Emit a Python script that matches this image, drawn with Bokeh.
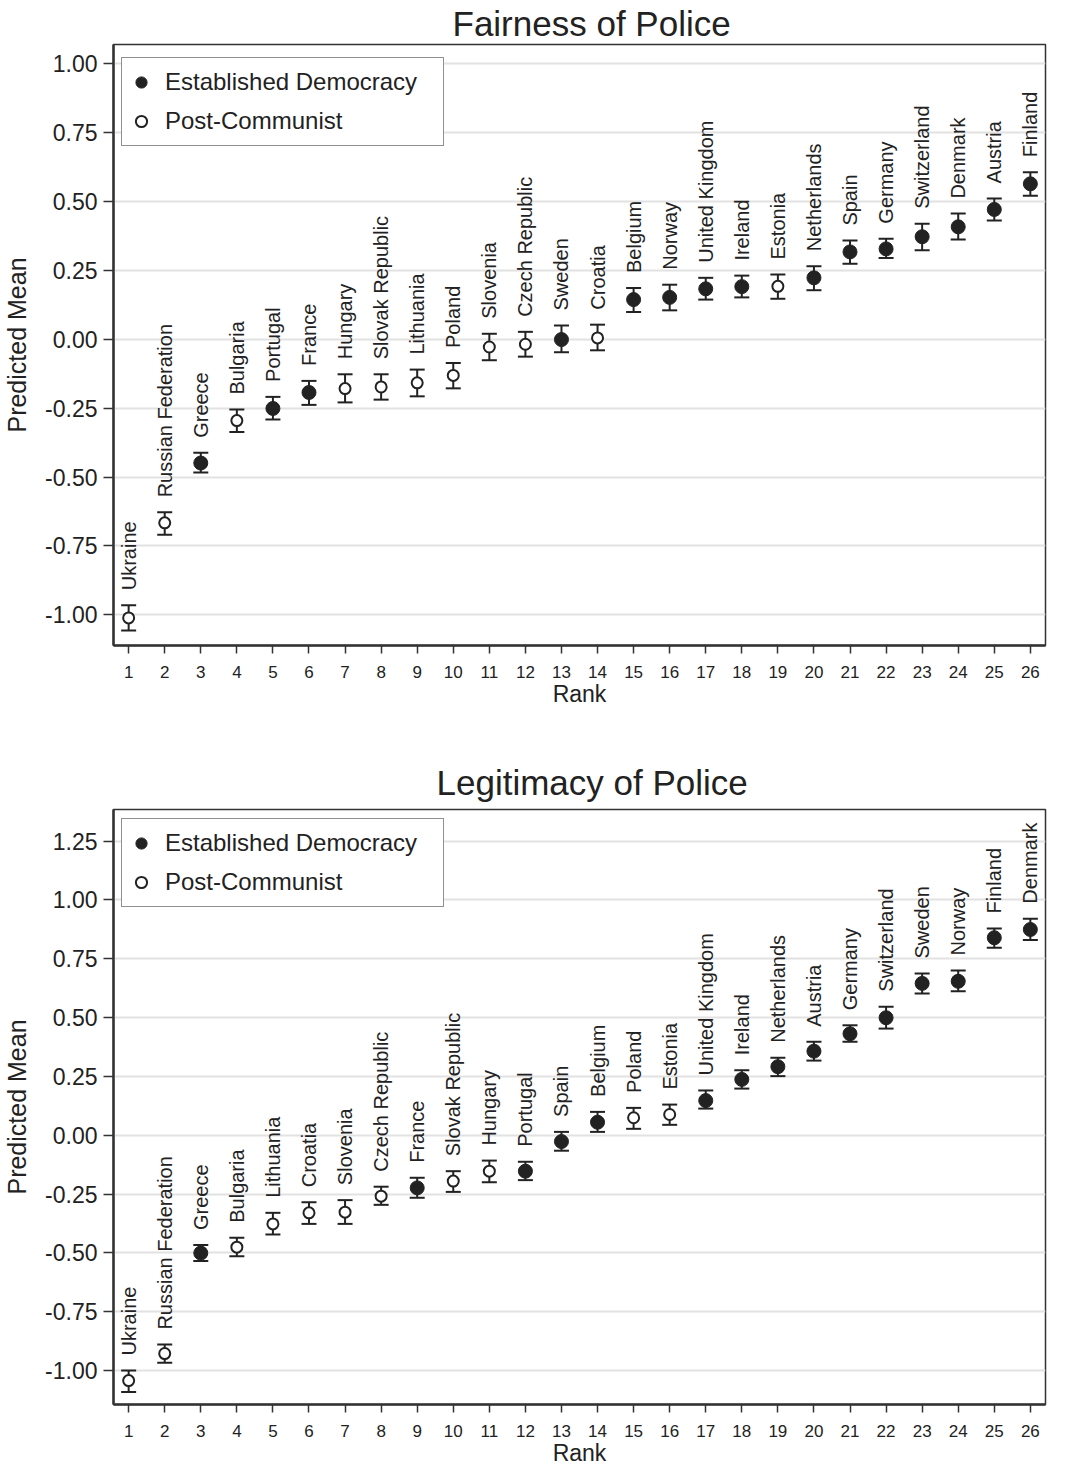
import numpy as np
from bokeh.plotting import figure
from bokeh.models import (ColumnDataSource, Whisker, TeeHead, FixedTicker,
                          PrintfTickFormatter, Legend, LegendItem, Title)
from bokeh.layouts import column
from bokeh.embed import file_html
from bokeh.resources import INLINE
from bokeh.core.properties import value

FONT = "Liberation Sans"
INK = "#222222"

ranks = list(range(1, 27))

# ---------------- Fairness of Police ----------------
fair_countries = ["Ukraine", "Russian Federation", "Greece", "Bulgaria", "Portugal",
                  "France", "Hungary", "Slovak Republic", "Lithuania", "Poland",
                  "Slovenia", "Czech Republic", "Sweden", "Croatia", "Belgium",
                  "Norway", "United Kingdom", "Ireland", "Estonia", "Netherlands",
                  "Spain", "Germany", "Switzerland", "Denmark", "Austria", "Finland"]
fair_group = ["P", "P", "E", "P", "E", "E", "P", "P", "P", "P",
              "P", "P", "E", "P", "E", "E", "E", "E", "P", "E",
              "E", "E", "E", "E", "E", "E"]
fair_mean = [-1.011, -0.666, -0.449, -0.295, -0.251, -0.193, -0.179, -0.173, -0.158, -0.131,
             -0.028, -0.018, -0.001, 0.005, 0.144, 0.152, 0.183, 0.191, 0.192, 0.223,
             0.317, 0.328, 0.372, 0.408, 0.471, 0.564]
fair_lo = [-1.057, -0.709, -0.483, -0.336, -0.291, -0.238, -0.229, -0.219, -0.207, -0.178,
           -0.076, -0.063, -0.047, -0.040, 0.099, 0.105, 0.144, 0.152, 0.147, 0.178,
           0.274, 0.295, 0.323, 0.362, 0.431, 0.521]
fair_hi = [-0.965, -0.628, -0.412, -0.255, -0.209, -0.151, -0.127, -0.127, -0.110, -0.086,
           0.020, 0.027, 0.050, 0.053, 0.186, 0.198, 0.223, 0.231, 0.235, 0.265,
           0.358, 0.365, 0.419, 0.456, 0.511, 0.606]
fair_yticks = [-1.0, -0.75, -0.5, -0.25, 0.0, 0.25, 0.5, 0.75, 1.0]

# ---------------- Legitimacy of Police ----------------
legit_countries = ["Ukraine", "Russian Federation", "Greece", "Bulgaria", "Lithuania",
                   "Croatia", "Slovenia", "Czech Republic", "France", "Slovak Republic",
                   "Hungary", "Portugal", "Spain", "Belgium", "Poland",
                   "Estonia", "United Kingdom", "Ireland", "Netherlands", "Austria",
                   "Germany", "Switzerland", "Sweden", "Norway", "Finland", "Denmark"]
legit_group = ["P", "P", "E", "P", "P", "P", "P", "P", "E", "P",
               "P", "E", "E", "E", "P", "P", "E", "E", "E", "E",
               "E", "E", "E", "E", "E", "E"]
legit_mean = [-1.043, -0.928, -0.501, -0.476, -0.377, -0.330, -0.327, -0.259, -0.224, -0.195,
              -0.153, -0.153, -0.027, 0.055, 0.074, 0.088, 0.147, 0.237, 0.291, 0.357,
              0.431, 0.499, 0.645, 0.654, 0.839, 0.874]
legit_lo = [-1.091, -0.967, -0.535, -0.514, -0.422, -0.377, -0.377, -0.296, -0.266, -0.241,
            -0.200, -0.191, -0.066, 0.014, 0.027, 0.044, 0.113, 0.198, 0.251, 0.317,
            0.397, 0.453, 0.602, 0.612, 0.796, 0.829]
legit_hi = [-1.000, -0.890, -0.467, -0.436, -0.330, -0.285, -0.276, -0.219, -0.181, -0.153,
            -0.108, -0.113, 0.014, 0.099, 0.116, 0.130, 0.190, 0.276, 0.329, 0.397,
            0.467, 0.546, 0.687, 0.700, 0.878, 0.920]
legit_yticks = [-1.0, -0.75, -0.5, -0.25, 0.0, 0.25, 0.5, 0.75, 1.0, 1.25]

legend_labels = {"E": "Established Democracy", "P": "Post-Communist"}

LEGEND_H = 87  # legend box height in px (padding + two rows)


def panel(title_text, title_offset, title_standoff, countries, group, mean, lo, hi,
          yticks, yrange, frame_h, top_border, bottom_border, legend_top):
    p = figure(frame_width=932, frame_height=frame_h,
               x_range=(0.58, 26.42), y_range=yrange,
               output_backend="svg", toolbar_location=None,
               min_border_left=111, min_border_right=14,
               min_border_top=top_border, min_border_bottom=bottom_border,
               background_fill_color="white", border_fill_color="white")
    p.title = Title(text=title_text, align="left", offset=title_offset,
                    text_font=FONT, text_font_size="35px", text_font_style="normal",
                    text_color=INK, standoff=title_standoff)

    p.outline_line_color = "#333333"
    p.outline_line_width = 1.5

    p.xgrid.visible = False
    p.ygrid.grid_line_color = "#e2e2e2"
    p.ygrid.grid_line_width = 2

    p.xaxis.ticker = FixedTicker(ticks=ranks)
    p.yaxis.ticker = FixedTicker(ticks=yticks)
    p.yaxis.formatter = PrintfTickFormatter(format="%.2f")
    p.xaxis.axis_label = "Rank"
    p.yaxis.axis_label = "Predicted Mean"
    for ax in (p.xaxis[0], p.yaxis[0]):
        ax.axis_line_color = "#333333"
        ax.axis_line_width = 2.5
        ax.major_tick_line_color = "#333333"
        ax.major_tick_line_width = 1.5
        ax.major_tick_in = 0
        ax.minor_tick_out = 0
        ax.minor_tick_in = 0
        ax.major_label_text_font = FONT
        ax.major_label_text_color = INK
        ax.axis_label_text_font = FONT
        ax.axis_label_text_font_style = "normal"
        ax.axis_label_text_color = INK
    p.xaxis.major_tick_out = 8
    p.xaxis.major_label_standoff = 12
    p.xaxis.major_label_text_font_size = "17px"
    p.xaxis.axis_label_text_font_size = "23px"
    p.xaxis.axis_label_standoff = 0
    p.yaxis.major_tick_out = 10
    p.yaxis.major_label_standoff = 6
    p.yaxis.major_label_text_font_size = "23px"
    p.yaxis.axis_label_text_font_size = "25px"
    p.yaxis.axis_label_standoff = 11

    src = ColumnDataSource(dict(x=ranks, y=mean, lo=lo, hi=hi, name=countries))
    p.add_layout(Whisker(source=src, base="x", upper="hi", lower="lo", dimension="height",
                         line_color=INK, line_width=2,
                         upper_head=TeeHead(size=15, line_color=INK, line_width=2),
                         lower_head=TeeHead(size=15, line_color=INK, line_width=2)))

    renderers = {}
    for g in ("E", "P"):
        idx = [i for i, k in enumerate(group) if k == g]
        s = ColumnDataSource(dict(x=[ranks[i] for i in idx], y=[mean[i] for i in idx]))
        if g == "E":
            r = p.scatter("x", "y", source=s, marker="circle", size=14,
                          fill_color=INK, line_color=INK, line_width=1)
        else:
            r = p.scatter("x", "y", source=s, marker="circle", size=11,
                          fill_color="white", line_color=INK, line_width=2)
        renderers[g] = r

    p.text(x="x", y="hi", text="name", source=src, angle=np.pi / 2,
           text_align="left", text_baseline="middle", y_offset=-15,
           text_font=value(FONT), text_font_size="20px", text_color=INK)

    legend = Legend(items=[LegendItem(label=legend_labels["E"], renderers=[renderers["E"]]),
                           LegendItem(label=legend_labels["P"], renderers=[renderers["P"]])],
                    location=(8, frame_h - legend_top - LEGEND_H), margin=0,
                    padding=5, spacing=1,
                    label_height=38, glyph_height=38, glyph_width=28, label_standoff=10,
                    label_width=273,
                    label_text_font=FONT, label_text_font_size="24px", label_text_color=INK,
                    border_line_color=INK, border_line_width=1.5,
                    background_fill_color="white", background_fill_alpha=1.0)
    p.add_layout(legend)
    return p


p1 = panel("Fairness of Police", 339, 3, fair_countries, fair_group, fair_mean, fair_lo, fair_hi,
           fair_yticks, (-1.111, 1.0695), 601, 44, 97, 15)
p2 = panel("Legitimacy of Police", 323, 15, legit_countries, legit_group, legit_mean, legit_lo,
           legit_hi, legit_yticks, (-1.1445, 1.384), 595, 67, 10, 11)

layout = column(p1, p2, spacing=0)
open("out.html", "w").write(file_html(layout, INLINE))
